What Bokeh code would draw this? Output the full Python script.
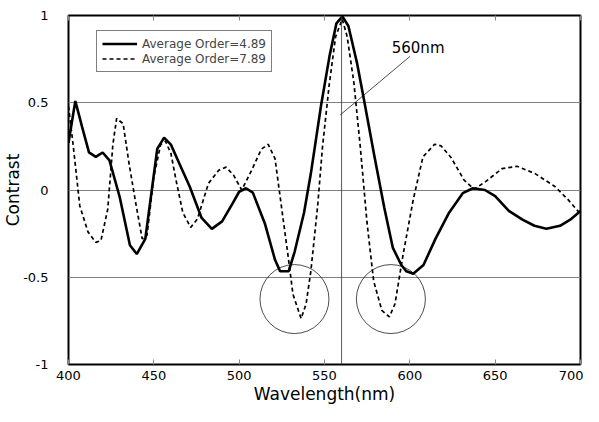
from bokeh.plotting import figure
from bokeh.models import (Range1d, FixedTicker, LinearAxis, Span, Legend, LegendItem,
                          CustomJSTickFormatter, Label)
from bokeh.embed import file_html
from bokeh.resources import INLINE

# --- data ---
wl_a = [400, 404, 408, 412, 416, 420, 424, 430, 436, 440, 445, 452, 456, 460, 465, 471, 478,
        484, 490, 496, 500, 504, 508, 515, 521, 524, 529, 532.5, 538, 542, 548, 553, 557,
        560.5, 564, 569, 573, 579, 585, 590, 595, 598, 602, 608, 615, 623, 631, 637, 644,
        650, 658, 666, 673, 680, 688, 694, 700]
order_489 = [0.27, 0.51, 0.36, 0.216, 0.19, 0.215, 0.17, -0.04, -0.317, -0.367, -0.28, 0.236,
             0.30, 0.26, 0.15, 0.02, -0.16, -0.223, -0.18, -0.08, -0.01, 0.01, -0.015, -0.19,
             -0.40, -0.466, -0.466, -0.354, -0.13, 0.094, 0.486, 0.77, 0.955, 0.995, 0.94,
             0.73, 0.524, 0.206, -0.10, -0.33, -0.43, -0.466, -0.48, -0.43, -0.28, -0.13,
             -0.018, 0.01, 0.0, -0.035, -0.12, -0.17, -0.205, -0.222, -0.205, -0.17, -0.12]

wl_b = [400, 402.7, 406.6, 411.4, 416, 419, 423, 426, 428.2, 432, 435.5, 439.4, 443.2, 446,
        450, 454, 456.8, 460, 463, 467, 471.6, 475.5, 482, 488, 492.3, 496.7, 501.5, 507.3,
        513, 517, 521, 524.7, 528.6, 531.5, 536.3, 539.2, 542, 546, 548.8, 552.7, 556.5,
        560.4, 563.3, 567.2, 571, 574.9, 578.8, 583.6, 588, 591.3, 596, 602, 607.7, 614.5,
        618.3, 624, 631.8, 637.6, 644.4, 654, 662.8, 673.4, 685, 692.7, 698.4, 700]
order_789 = [0.48, 0.26, -0.09, -0.24, -0.30, -0.29, -0.11, 0.26, 0.41, 0.38, 0.15, -0.075,
             -0.28, -0.26, 0.076, 0.26, 0.28, 0.21, 0.057, -0.13, -0.214, -0.167, 0.038,
             0.113, 0.131, 0.085, 0.0, 0.113, 0.234, 0.262, 0.18, -0.09, -0.373, -0.597,
             -0.737, -0.653, -0.466, -0.09, 0.244, 0.598, 0.878, 0.98, 0.878, 0.617, 0.244,
             -0.186, -0.522, -0.69, -0.727, -0.653, -0.373, -0.055, 0.19, 0.262, 0.253, 0.188,
             0.057, 0.004, 0.048, 0.122, 0.136, 0.094, 0.02, -0.055, -0.12, -0.13]

legend_labels = ["Average Order=4.89", "Average Order=7.89"]
x_ticks = [400, 450, 500, 550, 600, 650, 700]
y_ticks = [-1, -0.5, 0, 0.5, 1]
grid_y = [-0.5, 0, 0.5]
marker_wl = 560
circle_x = [532.4, 588.9]
circle_y = [-0.625, -0.625]
note_text = "560nm"
note_x, note_y = 589.4, 0.815
leader_x = [600, 559.2]
leader_y = [0.765, 0.43]

FONT = "DejaVu Sans"

p = figure(width=583, height=406, output_backend="svg", toolbar_location=None,
           x_range=Range1d(400, 700), y_range=Range1d(-1, 1),
           min_border_left=68, min_border_right=3, min_border_top=15, min_border_bottom=40)
p.outline_line_color = "black"
p.outline_line_width = 2
p.background_fill_color = "white"
p.border_fill_color = "white"

# axes
p.xaxis.ticker = FixedTicker(ticks=x_ticks)
p.xaxis.axis_line_color = None
p.xaxis.major_tick_in = 5
p.xaxis.major_tick_out = 0
p.xaxis.major_tick_line_color = "#888888"
p.xaxis.minor_tick_line_color = None
p.xaxis.major_label_text_font = FONT
p.xaxis.major_label_text_font_size = "13px"
p.xaxis.major_label_text_color = "black"
p.xaxis.major_label_standoff = 6
p.xaxis.axis_label = "Wavelength(nm)"
p.xaxis.axis_label_text_font = FONT
p.xaxis.axis_label_text_font_size = "17px"
p.xaxis.axis_label_text_font_style = "normal"
p.xaxis.axis_label_text_color = "black"
p.xaxis.axis_label_standoff = 1

top_axis = LinearAxis(ticker=FixedTicker(ticks=x_ticks),
                      formatter=CustomJSTickFormatter(code="return ''"),
                      axis_line_color=None, major_tick_in=5, major_tick_out=0,
                      major_tick_line_color="#888888", minor_tick_line_color=None,
                      major_label_standoff=0)
p.add_layout(top_axis, "above")

p.yaxis.ticker = FixedTicker(ticks=y_ticks)
p.yaxis.formatter = CustomJSTickFormatter(code="return tick.toString()")
p.yaxis.axis_line_color = None
p.yaxis.major_tick_line_color = None
p.yaxis.minor_tick_line_color = None
p.yaxis.major_label_text_font = FONT
p.yaxis.major_label_text_font_size = "13px"
p.yaxis.major_label_text_color = "black"
p.yaxis.major_label_standoff = 14
p.yaxis.axis_label = "Contrast"
p.yaxis.axis_label_text_font = FONT
p.yaxis.axis_label_text_font_size = "17px"
p.yaxis.axis_label_text_font_style = "normal"
p.yaxis.axis_label_text_color = "black"
p.yaxis.axis_label_standoff = -3

p.xgrid.grid_line_color = None
p.ygrid.ticker = FixedTicker(ticks=grid_y)
p.ygrid.grid_line_color = "#808080"
p.ygrid.grid_line_width = 1
p.ygrid.grid_line_alpha = 1

p.add_layout(Span(location=marker_wl, dimension="height", line_color="#333333", line_width=0.8))

r1 = p.line(wl_a, order_489, line_color="black", line_width=2.6)
r2 = p.line(wl_b, order_789, line_color="black", line_width=1.7, line_dash="4 3")

p.scatter(circle_x, circle_y, marker="circle", size=69, fill_color=None,
          line_color="black", line_width=0.7)
p.line(leader_x, leader_y, line_color="black", line_width=0.7)
p.add_layout(Label(x=note_x, y=note_y, text=note_text, text_font=FONT, text_font_size="15px",
                   text_baseline="middle", text_align="left", text_color="black"))

legend = Legend(items=[LegendItem(label=legend_labels[0], renderers=[r1]),
                       LegendItem(label=legend_labels[1], renderers=[r2])],
                location=(28, 292), label_text_font=FONT, label_text_font_size="12px",
                glyph_width=35, glyph_height=15, label_height=15, label_standoff=5,
                spacing=0, padding=5, margin=0, border_line_color="black",
                border_line_width=1, background_fill_alpha=1)
p.add_layout(legend, "center")

open("out.html", "w").write(file_html(p, INLINE))
